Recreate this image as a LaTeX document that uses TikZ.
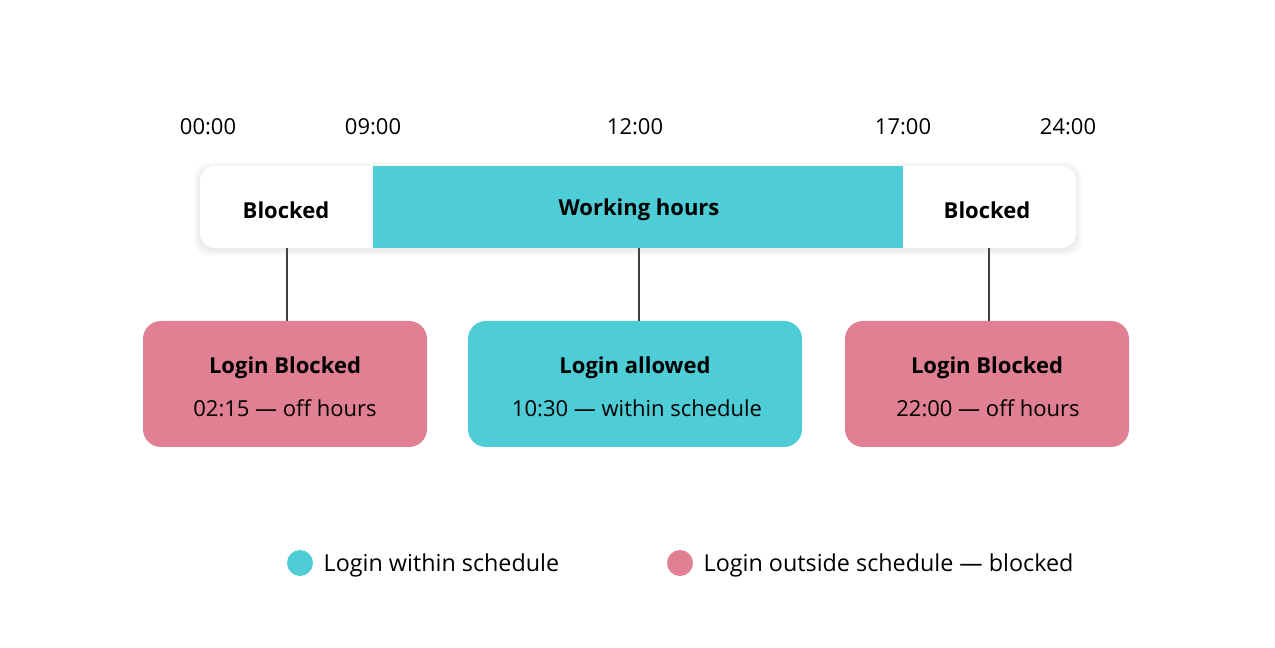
\documentclass[tikz,border=0pt]{standalone}
\usepackage{fontspec}
\setmainfont{Open Sans}
\definecolor{teal}{HTML}{4ECDD6}
\definecolor{pink}{HTML}{E08092}
\begin{document}
\begin{tikzpicture}[x=0.75pt,y=-0.75pt,
  tlabel/.style={font=\fontsize{16.5}{19}\selectfont},
  blabel/.style={font=\fontsize{16.5}{19}\selectfont\bfseries},
  card/.style={rounded corners=13.5pt,draw=none},
  conn/.style={draw=black!75,line width=0.9pt},
  leg/.style={font=\fontsize{17.5}{20}\selectfont,anchor=west}]
\useasboundingbox[fill=white] (0,0) rectangle (1275,648);
\foreach \d in {1,2,...,6}
  \fill[black,opacity=0.012,rounded corners=11pt] (200-\d,166-\d+2) rectangle (1076+\d,248+\d+2);
\fill[white,rounded corners=11pt] (200,166) rectangle (1076,248);
\fill[teal] (373,166) rectangle (903,248);
\foreach \n/\x/\t in {t0/208/00:00,t9/373/09:00,t12/635/12:00,t17/903/17:00,t24/1068/24:00}
  \node[tlabel] (\n) at (\x,127) {\t};
\node[blabel] (b1) at (286,210) {Blocked};
\node[blabel] (wh) at (639,210) {Working hours};
\node[blabel] (b2) at (987,210) {Blocked};
\coordinate (s1) at (287,248); \coordinate (s2) at (639,248); \coordinate (s3) at (989,248);
\fill[pink,card] (143,321) rectangle (427,447);
\fill[teal,card] (468,321) rectangle (802,447);
\fill[pink,card] (845,321) rectangle (1129,447);
\coordinate (c1) at (287,321); \coordinate (c2) at (639,321); \coordinate (c3) at (989,321);
\draw[conn] (s1)--(c1); \draw[conn] (s2)--(c2); \draw[conn] (s3)--(c3);
\node[blabel] (l1) at (285,368) {Login Blocked};
\node[tlabel] (m1) at (285,408) {02:15 — off hours};
\node[blabel] (l2) at (635,368) {Login allowed};
\node[tlabel] (m2) at (637,408) {10:30 — within schedule};
\node[blabel] (l3) at (987,368) {Login Blocked};
\node[tlabel] (m3) at (988,408) {22:00 — off hours};
\fill[teal] (300,563) circle (13);
\node[leg] (g1) at (319,565) {Login within schedule};
\fill[pink] (680,563) circle (13);
\node[leg] (g2) at (699,565) {Login outside schedule — blocked};
\end{tikzpicture}
\end{document}
